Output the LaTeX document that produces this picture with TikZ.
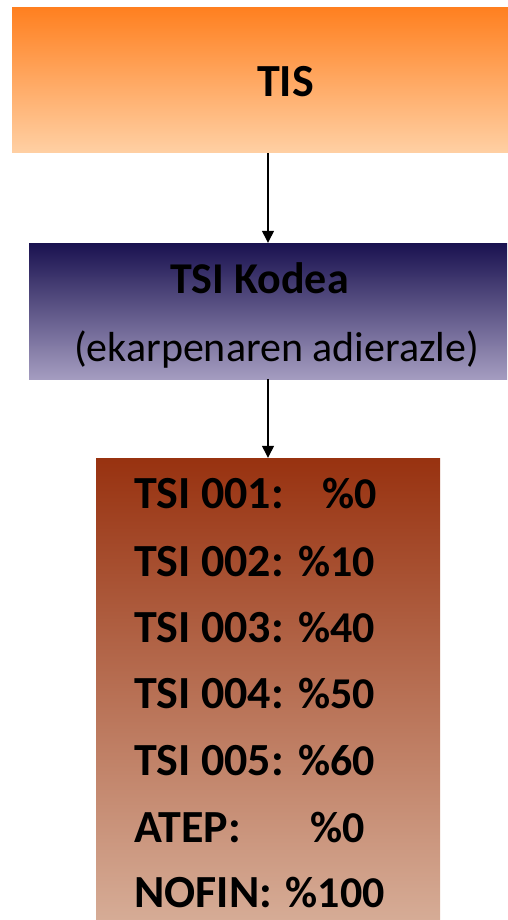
\documentclass[tikz,border=0pt]{standalone}
\usepackage{fontspec}
\setmainfont{Carlito}
\usetikzlibrary{arrows.meta}

\tikzset{
  box/.style={rectangle, inner sep=0pt, draw=none, shading=axis},
  big/.style={font=\fontsize{46}{50}\selectfont\bfseries, anchor=base west, inner sep=0pt},
  val/.style={font=\fontsize{44}{48}\selectfont\bfseries, anchor=base east, inner sep=0pt},
  arr/.style={line width=1.3pt, -{Triangle[length=12pt,width=12pt]}},
}

\begin{document}
\begin{tikzpicture}[x=1pt,y=-1pt]
        \useasboundingbox (0,0) rectangle (508,920);
        \node[box, minimum width=496pt, minimum height=145pt, top color={rgb,255:red,255;green,128;blue,32}, bottom color={rgb,255:red,255;green,208;blue,164}] (tis) at (260,80.5) {};
        \node[box, minimum width=478pt, minimum height=136pt, top color={rgb,255:red,26;green,18;blue,80}, bottom color={rgb,255:red,164;green,156;blue,192}] (kodea) at (268,311) {};
        \node[box, minimum width=344pt, minimum height=462pt, top color={rgb,255:red,152;green,50;blue,16}, middle color={rgb,255:red,182;green,124;blue,102}, bottom color={rgb,255:red,214;green,172;blue,150}] (tsi) at (268,689) {};
        \node[big] (tistxt) at (257,97) {TIS};
        \node[big, font=\fontsize{44}{48}\selectfont\bfseries] (kodeatxt) at (170,293) {TSI Kodea};
        \node[anchor=base west, inner sep=0pt, font=\fontsize{42}{46}\selectfont] (adierazle) at (74,361) {(ekarpenaren adierazle)};
        \node[big] (n1) at (134,508) {TSI 001:};
        \node[val] (v1) at (377,508) {\%0};
        \node[big] (n2) at (134,576) {TSI 002:};
        \node[val] (v2) at (375,576) {\%10};
        \node[big] (n3) at (134,642) {TSI 003:};
        \node[val] (v3) at (375,642) {\%40};
        \node[big] (n4) at (134,708) {TSI 004:};
        \node[val] (v4) at (375,708) {\%50};
        \node[big] (n5) at (134,775) {TSI 005:};
        \node[val] (v5) at (375,775) {\%60};
        \node[big] (n6) at (134,842) {ATEP:};
        \node[val] (v6) at (365,842) {\%0};
        \node[big] (n7) at (134,907) {NOFIN:};
        \node[val] (v7) at (385,907) {\%100};
        \coordinate (axis) at (268,0);
        \draw[arr] (axis |- tis.south) -- (axis |- kodea.north);
        \draw[arr] (axis |- kodea.south) -- (axis |- tsi.north);
    \end{tikzpicture}
\end{document}
